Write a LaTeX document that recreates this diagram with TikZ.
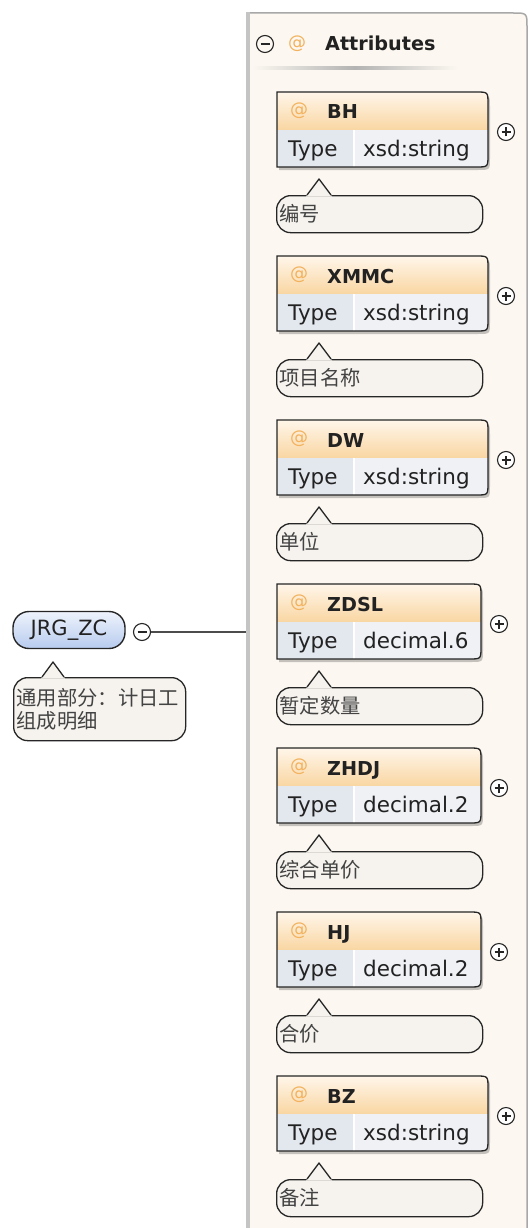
\documentclass[tikz,border=0pt]{standalone}
\usepackage{fontspec}
\setmainfont{DejaVu Sans}
\newfontfamily\cjk{Noto Sans CJK SC}
\usetikzlibrary{positioning}

\definecolor{panelfill}{HTML}{FCF8F1}
\definecolor{panelline}{HTML}{A8A8A8}
\definecolor{panelside}{HTML}{C4C4C4}
\definecolor{headtop}{HTML}{FFF6EA}
\definecolor{headbot}{HTML}{F9D6A2}
\definecolor{typecell}{HTML}{E3E7EE}
\definecolor{valcell}{HTML}{EFF1F5}
\definecolor{notefill}{HTML}{F6F3EE}
\definecolor{atcolor}{HTML}{F2B25E}
\definecolor{roottop}{HTML}{EEF3FC}
\definecolor{rootbot}{HTML}{B7CBEE}
\definecolor{inkline}{HTML}{262626}
\definecolor{inktext}{HTML}{222222}

% one attribute: name, top, label, type, right edge, note
\newcommand{\attrbox}[6]{%
  \def\attrtop{#2}\def\attrright{#5}%
  % shadow %
  \fill[black, opacity=.22] (279,\attrtop+3) -- (\attrright-10,\attrtop+3) .. controls (\attrright+2,\attrtop+3) .. (\attrright+2,\attrtop+15) -- (\attrright+2,\attrtop+66) .. controls (\attrright+2,\attrtop+78) .. (\attrright-10,\attrtop+78) -- (279,\attrtop+78) -- cycle;
  % cells %
  \begin{scope}
    \clip (277,\attrtop) -- (\attrright-12,\attrtop) .. controls (\attrright,\attrtop) .. (\attrright,\attrtop+12) -- (\attrright,\attrtop+63) .. controls (\attrright,\attrtop+75) .. (\attrright-12,\attrtop+75) -- (277,\attrtop+75) -- cycle;
    \fill[top color=headtop, bottom color=headbot] (277,\attrtop) rectangle (\attrright,\attrtop+38);
    \fill[typecell] (277,\attrtop+38) rectangle (354,\attrtop+75);
    \fill[valcell] (354,\attrtop+38) rectangle (\attrright,\attrtop+75);
    \draw[white, line width=1.5] (354,\attrtop+38) -- (354,\attrtop+75);
  \end{scope}
  \draw[boxline] (277,\attrtop) -- (\attrright-12,\attrtop) .. controls (\attrright,\attrtop) .. (\attrright,\attrtop+12) -- (\attrright,\attrtop+63) .. controls (\attrright,\attrtop+75) .. (\attrright-12,\attrtop+75) -- (277,\attrtop+75) -- cycle;
  % texts %
  \node[atsign] (#1-a) at (299,\attrtop+19) {@};
  \node[attrname] (#1) at (327,\attrtop+27) {#3};
  \node[typetext] (#1-t) at (288,\attrtop+64) {Type};
  \node[typetext] (#1-v) at (363,\attrtop+64) {#4};
  % expand sign %
  \node[toggle] (#1-p) at (\attrright+18,\attrtop+40) {};
  \draw[signline] ([xshift=-4.5pt]#1-p.center) -- ([xshift=4.5pt]#1-p.center);
  \draw[signline] ([yshift=-4.5pt]#1-p.center) -- ([yshift=4.5pt]#1-p.center);
  % note %
  \node[note, anchor=north west, text width=200pt, minimum height=37pt] (#1-n) at (276,\attrtop+103) {#6};
  \fill[notefill] (306,\attrtop+104.5) -- (319,\attrtop+87) -- (332,\attrtop+104.5) -- cycle;
  \draw[boxline, line join=round] (307,\attrtop+103) -- (319,\attrtop+87) -- (331,\attrtop+103);
}

\begin{document}
\begin{tikzpicture}
  [x=1pt, y=-1pt,
   boxline/.style={draw=inkline, line width=1.3pt},
   signline/.style={draw=inkline, line width=1.1pt},
   toggle/.style={circle, draw=inkline, line width=1.1pt, minimum size=17pt, inner sep=0pt, fill=white},
   atsign/.style={text=atcolor, font=\fontsize{18}{20}\selectfont, inner sep=0pt},
   attrname/.style={anchor=base west, text=inktext, font=\bfseries\fontsize{19.2}{21}\selectfont, inner sep=0pt},
   typetext/.style={anchor=base west, text=inktext, font=\fontsize{21.5}{23}\selectfont, inner sep=0pt},
   note/.style={draw=inkline, line width=1.3pt, fill=notefill, rounded corners=14pt, inner xsep=3pt, inner ysep=0pt, align=left, text=inktext!85, font=\cjk\fontsize{20.3}{22.5}\selectfont},
   rootnode/.style={draw=inkline, line width=1.4pt, rounded corners=16pt, top color=roottop, bottom color=rootbot, minimum width=112pt, minimum height=37pt, inner sep=0pt, text=inktext, font=\fontsize{21}{23}\selectfont},
   conn/.style={draw=black!70, line width=2pt}]

  \useasboundingbox (0,0) rectangle (528,1228);
  \fill[white] (0,0) rectangle (528,1228);

  % panel %
  \fill[panelfill] (248,13) -- (513,13) .. controls (527,13) .. (527,27) -- (527,1230) -- (248,1230) -- cycle;
  \draw[panelline, line width=1.5pt] (248,13) -- (513,13) .. controls (527,13) .. (527,27) -- (527,1230);
  \draw[panelside, line width=4pt] (248,12) -- (248,1230);
  \coordinate (panel-in) at (246,632);

  % panel header %
  \node[toggle, fill=panelfill] (attrs-m) at (265,44) {};
  \draw[signline] ([xshift=-4.5pt]attrs-m.center) -- ([xshift=4.5pt]attrs-m.center);
  \node[atsign] (attrs-a) at (297,44) {@};
  \node[attrname] (attrs) at (325,51) {Attributes};
  \fill[left color=panelfill, right color=panelfill, middle color=black!30] (252,67) rectangle (458,70);

  % root %
  \node[rootnode] (jrg) at (69,630) {JRG\_ZC};
  \node[toggle] (jrg-m) at (142,632) {};
  \draw[signline] ([xshift=-4.5pt]jrg-m.center) -- ([xshift=4.5pt]jrg-m.center);
  \node[note, anchor=north west, text width=166pt, minimum height=63pt] (jrg-n) at (13,677) {通用部分：计日工\\组成明细};
  \fill[notefill] (41,678.5) -- (53,662) -- (65,678.5) -- cycle;
  \draw[boxline, line join=round] (42,677) -- (53,662) -- (64,677);

  % edges %
  \draw[conn] (jrg-m) -- (panel-in);

  % attributes %
  \attrbox{bh}{92}{BH}{xsd:string}{488}{编号}
  \attrbox{xmmc}{256}{XMMC}{xsd:string}{488}{项目名称}
  \attrbox{dw}{420}{DW}{xsd:string}{488}{单位}
  \attrbox{zdsl}{584}{ZDSL}{decimal.6}{481}{暂定数量}
  \attrbox{zhdj}{748}{ZHDJ}{decimal.2}{481}{综合单价}
  \attrbox{hj}{912}{HJ}{decimal.2}{481}{合价}
  \attrbox{bz}{1076}{BZ}{xsd:string}{488}{备注}
\end{tikzpicture}
\end{document}
